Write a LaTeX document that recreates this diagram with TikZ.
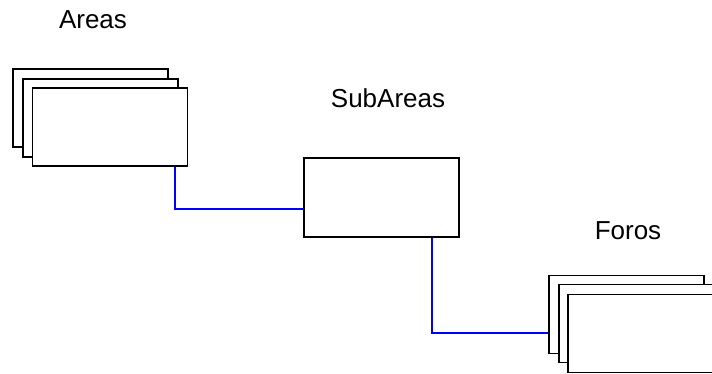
\documentclass[tikz,border=0pt]{standalone}
\usepackage{fontspec}
\setmainfont{Liberation Sans}
\begin{document}
\begin{tikzpicture}[x=1pt, y=-1pt,
        caja/.style={draw, line width=1.5pt, fill=white, minimum width=155pt, minimum height=78pt, inner sep=0pt},
        titulo/.style={anchor=base, font=\fontsize{26}{30}\selectfont},
        enlace/.style={draw=blue, line width=1.1pt}]
        \useasboundingbox (0,0) rectangle (712,373);

        % Titulos
        \node[titulo] (tAreas) at (93,28) {Areas};
        \node[titulo] (tSubAreas) at (388,107) {SubAreas};
        \node[titulo] (tForos) at (628,239) {Foros};

        % Pila de Areas
        \node[caja] (areas1) at (90.5,108) {};
        \node[caja] (areas2) at (100.5,118) {};
        \node[caja] (areas3) at (110,127) {};

        % SubAreas
        \node[caja, minimum height=79pt] (subareas) at (381.5,197.5) {};

        % Pila de Foros
        \node[caja] (foros1) at (626.5,314.5) {};
        \node[caja] (foros2) at (636.5,323.5) {};
        \node[caja] (foros3) at (645.5,333.5) {};

        % Enlaces (en azul)
        \coordinate (a2s) at (175,209);
        \coordinate (s2f) at (432,333);
        \draw[enlace] (a2s |- areas3.south) |- (subareas.west |- a2s);
        \draw[enlace] (s2f |- subareas.south) |- (foros1.west |- s2f);
    \end{tikzpicture}
\end{document}
